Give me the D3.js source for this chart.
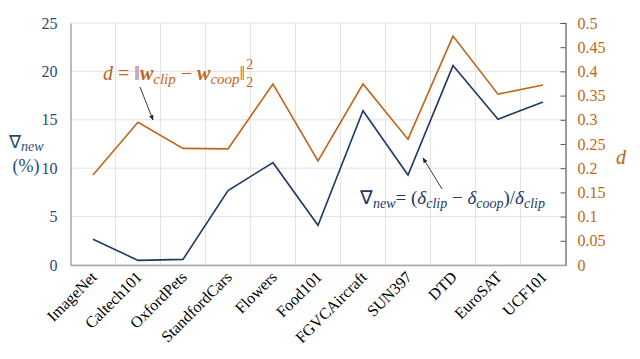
<!DOCTYPE html>
<html><head><meta charset="utf-8">
<script src="https://cdn.jsdelivr.net/npm/d3@7"></script>
</head><body style="margin:0">
<svg id="c" width="640" height="359" font-family="Liberation Serif"></svg>
<script>
const categories = ["ImageNet","Caltech101","OxfordPets","StandfordCars","Flowers","Food101","FGVCAircraft","SUN397","DTD","EuroSAT","UCF101"];
const deltaNew = [2.67,0.48,0.58,7.7,10.57,4.1,15.94,9.3,20.6,15.05,16.84];
const dValues = [0.186,0.295,0.241,0.24,0.374,0.215,0.374,0.26,0.473,0.353,0.372];
const leftTicks = [0,5,10,15,20,25];
const rightTicks = [0,0.05,0.1,0.15,0.2,0.25,0.3,0.35,0.4,0.45,0.5];

const BLUE = "#1f3864", BLUE_T = "#1f4e79", ORANGE = "#c0651a";
const FONT = "Liberation Serif";
const svg = d3.select("#c");
const m = {l:70.5, r:565.5, t:23, b:265};
const x = d3.scaleBand().domain(categories).range([m.l, m.r]);
const yL = d3.scaleLinear().domain([0,25]).range([m.b, m.t]);
const yR = d3.scaleLinear().domain([0,0.5]).range([m.b, m.t]);

// grid
const g = svg.append("g");
g.selectAll(".hg").data(leftTicks).join("line")
  .attr("x1", m.l).attr("x2", m.r).attr("y1", d=>yL(d)).attr("y2", d=>yL(d))
  .attr("stroke", "#e3e3e3").attr("stroke-width", 1);
g.selectAll(".vg").data(categories.slice(1)).join("line")
  .attr("x1", d=>x(d)).attr("x2", d=>x(d)).attr("y1", m.t).attr("y2", m.b)
  .attr("stroke", "#e3e3e3").attr("stroke-width", 1);

// left axis
const axL = svg.append("g").attr("transform", `translate(${m.l},0)`)
  .call(d3.axisLeft(yL).tickValues(leftTicks).tickSize(0).tickPadding(13));
axL.attr("font-family", FONT).attr("font-size", 16);
axL.select(".domain").attr("stroke", "#a6a6a6").attr("stroke-width", 1.5);
axL.selectAll("text").attr("fill", BLUE_T);

// right axis
const axR = svg.append("g").attr("transform", `translate(${m.r},0)`)
  .call(d3.axisRight(yR).tickValues(rightTicks).tickSize(-5).tickPadding(12).tickFormat(d=>String(+d.toFixed(2))));
axR.attr("font-family", FONT).attr("font-size", 16);
axR.select(".domain").attr("stroke", "#595959").attr("stroke-width", 1.2);
axR.selectAll("line").attr("stroke", "#595959");
axR.selectAll("text").attr("fill", ORANGE);

// bottom axis
const axB = svg.append("g").attr("transform", `translate(0,${m.b})`)
  .call(d3.axisBottom(x).tickSize(0).tickPadding(0));
axB.attr("font-family", FONT).attr("font-size", 16);
axB.select(".domain").attr("stroke", "#a6a6a6").attr("stroke-width", 1.5);
axB.selectAll("text").attr("fill", "#000")
  .attr("text-anchor", "end").attr("dy", null)
  .attr("transform", "translate(5,13) rotate(-45)");

// lines
const lineL = d3.line().x((d,i)=>x(categories[i]) + x.bandwidth()/2).y(d=>yL(d));
const lineR = d3.line().x((d,i)=>x(categories[i]) + x.bandwidth()/2).y(d=>yR(d));
svg.append("path").attr("d", lineR(dValues)).attr("fill","none").attr("stroke", ORANGE).attr("stroke-width", 1.6);
svg.append("path").attr("d", lineL(deltaNew)).attr("fill","none").attr("stroke", BLUE).attr("stroke-width", 1.6);

// axis titles
const lt = svg.append("text").attr("x", 9).attr("y", 148).attr("font-size", 18).attr("fill", BLUE_T);
lt.append("tspan").text("∇");
lt.append("tspan").text("new").attr("font-style","italic").attr("font-size", 14).attr("dy", 3);
svg.append("text").attr("x", 26).attr("y", 172).attr("text-anchor","middle").attr("font-size", 18).attr("fill", BLUE_T).text("(%)");
svg.append("text").attr("x", 621).attr("y", 164).attr("text-anchor","middle").attr("font-style","italic").attr("font-size", 20).attr("fill", ORANGE).text("d");

// arrows
const defs = svg.append("defs");
defs.append("marker").attr("id","ah").attr("viewBox","0 0 10 10").attr("refX",9).attr("refY",5)
  .attr("markerWidth",6).attr("markerHeight",6).attr("orient","auto")
  .append("path").attr("d","M0,1 L10,5 L0,9 z").attr("fill","#222");
svg.append("line").attr("x1",140).attr("y1",87).attr("x2",153).attr("y2",120).attr("stroke","#222").attr("stroke-width",0.9).attr("marker-end","url(#ah)");
svg.append("line").attr("x1",442).attr("y1",189).attr("x2",423).attr("y2",158).attr("stroke","#222").attr("stroke-width",0.9).attr("marker-end","url(#ah)");

// annotation 1
const a1 = svg.append("text").attr("x", 103).attr("y", 80).attr("font-size", 20).attr("fill", ORANGE);
a1.append("tspan").text("d").attr("font-style","italic");
a1.append("tspan").text(" = ‖");
a1.append("tspan").text("w").attr("font-style","italic").attr("font-weight","bold");
a1.append("tspan").text("clip").attr("font-style","italic").attr("font-size", 15).attr("dy", 4);
a1.append("tspan").text(" − ").attr("dy", -4);
a1.append("tspan").text("w").attr("font-style","italic").attr("font-weight","bold");
a1.append("tspan").text("coop").attr("font-style","italic").attr("font-size", 15).attr("dy", 4);
a1.append("tspan").text("‖").attr("dy", -4);
a1.append("tspan").text("2").attr("font-size", 14).attr("dx", 1).attr("dy", -11);
a1.append("tspan").text("2").attr("font-size", 14).attr("dx", -7).attr("dy", 18);

// annotation 2
const a2 = svg.append("text").attr("x", 360).attr("y", 204).attr("font-size", 19).attr("fill", BLUE);
a2.append("tspan").text("∇");
a2.append("tspan").text("new").attr("font-style","italic").attr("font-size", 14).attr("dy", 4);
a2.append("tspan").text("= (").attr("dy", -4);
a2.append("tspan").text("δ").attr("font-style","italic");
a2.append("tspan").text("clip").attr("font-style","italic").attr("font-size", 14).attr("dy", 4);
a2.append("tspan").text(" − ").attr("dy", -4);
a2.append("tspan").text("δ").attr("font-style","italic");
a2.append("tspan").text("coop").attr("font-style","italic").attr("font-size", 14).attr("dy", 4);
a2.append("tspan").text(")/").attr("dy", -4);
a2.append("tspan").text("δ").attr("font-style","italic");
a2.append("tspan").text("clip").attr("font-style","italic").attr("font-size", 14).attr("dy", 4);

// make sure every text uses the serif family explicitly
svg.selectAll("text").attr("font-family", FONT);
</script>
</body></html>
